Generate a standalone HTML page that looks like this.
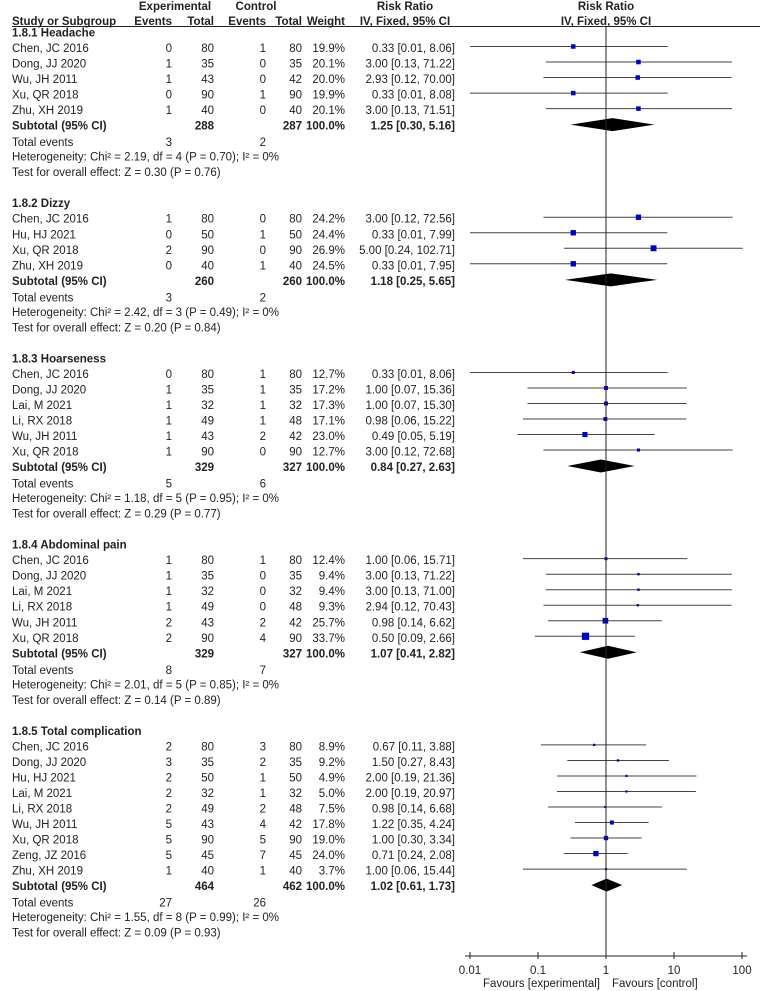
<!DOCTYPE html>
<html><head><meta charset="utf-8"><style>
html,body{margin:0;padding:0;background:#fff;}
svg{display:block;font-family:"Liberation Sans",Arial,sans-serif;font-size:11.5px;fill:#222;}
.b{font-weight:bold;}
</style></head><body>
<svg id="plot" width="760" height="991" viewBox="0 0 760 991" xmlns="http://www.w3.org/2000/svg">
<g>
<text class="b" x="175" y="10" text-anchor="middle">Experimental</text>
<text class="b" x="256" y="10" text-anchor="middle">Control</text>
<text class="b" x="405" y="10" text-anchor="middle">Risk Ratio</text>
<text class="b" x="606" y="10" text-anchor="middle">Risk Ratio</text>
<text class="b" x="12" y="25">Study or Subgroup</text>
<text class="b" x="172" y="25" text-anchor="end">Events</text>
<text class="b" x="214" y="25" text-anchor="end">Total</text>
<text class="b" x="266" y="25" text-anchor="end">Events</text>
<text class="b" x="302" y="25" text-anchor="end">Total</text>
<text class="b" x="345" y="25" text-anchor="end">Weight</text>
<text class="b" x="405" y="25" text-anchor="middle">IV, Fixed, 95% CI</text>
<text class="b" x="606" y="25" text-anchor="middle">IV, Fixed, 95% CI</text>
<line x1="12" y1="26.5" x2="760" y2="26.5" stroke="#222" stroke-width="1"/>
</g>
<g id="rows"></g>
<g id="axis"></g>
</svg>
<script>
const groupTitles = ["1.8.1 Headache","1.8.2 Dizzy","1.8.3 Hoarseness","1.8.4 Abdominal pain","1.8.5 Total complication"];
const studies = [
 ["Chen, JC 2016","Dong, JJ 2020","Wu, JH 2011","Xu, QR 2018","Zhu, XH 2019"],
 ["Chen, JC 2016","Hu, HJ 2021","Xu, QR 2018","Zhu, XH 2019"],
 ["Chen, JC 2016","Dong, JJ 2020","Lai, M 2021","Li, RX 2018","Wu, JH 2011","Xu, QR 2018"],
 ["Chen, JC 2016","Dong, JJ 2020","Lai, M 2021","Li, RX 2018","Wu, JH 2011","Xu, QR 2018"],
 ["Chen, JC 2016","Dong, JJ 2020","Hu, HJ 2021","Lai, M 2021","Li, RX 2018","Wu, JH 2011","Xu, QR 2018","Zeng, JZ 2016","Zhu, XH 2019"]
];
const expEvents = [[0,1,1,0,1],[1,0,2,0],[0,1,1,1,1,1],[1,1,1,1,2,2],[2,3,2,2,2,5,5,5,1]];
const expTotal = [[80,35,43,90,40],[80,50,90,40],[80,35,32,49,43,90],[80,35,32,49,43,90],[80,35,50,32,49,43,90,45,40]];
const ctlEvents = [[1,0,0,1,0],[0,1,0,1],[1,1,1,1,2,0],[1,0,0,0,2,4],[3,2,1,1,2,4,5,7,1]];
const ctlTotal = [[80,35,42,90,40],[80,50,90,40],[80,35,32,48,42,90],[80,35,32,48,42,90],[80,35,50,32,48,42,90,45,40]];
const weights = [[19.9,20.1,20.0,19.9,20.1],[24.2,24.4,26.9,24.5],[12.7,17.2,17.3,17.1,23.0,12.7],[12.4,9.4,9.4,9.3,25.7,33.7],[8.9,9.2,4.9,5.0,7.5,17.8,19.0,24.0,3.7]];
const rr = [[0.33,3.00,2.93,0.33,3.00],[3.00,0.33,5.00,0.33],[0.33,1.00,1.00,0.98,0.49,3.00],[1.00,3.00,3.00,2.94,0.98,0.50],[0.67,1.50,2.00,2.00,0.98,1.22,1.00,0.71,1.00]];
const lo = [[0.01,0.13,0.12,0.01,0.13],[0.12,0.01,0.24,0.01],[0.01,0.07,0.07,0.06,0.05,0.12],[0.06,0.13,0.13,0.12,0.14,0.09],[0.11,0.27,0.19,0.19,0.14,0.35,0.30,0.24,0.06]];
const hi = [[8.06,71.22,70.00,8.08,71.51],[72.56,7.99,102.71,7.95],[8.06,15.36,15.30,15.22,5.19,72.68],[15.71,71.22,71.00,70.43,6.62,2.66],[3.88,8.43,21.36,20.97,6.68,4.24,3.34,2.08,15.44]];
const subTotExp = [288,260,329,329,464];
const subTotCtl = [287,260,327,327,462];
const subRR = [1.25,1.18,0.84,1.07,1.02];
const subLo = [0.30,0.25,0.27,0.41,0.61];
const subHi = [5.16,5.65,2.63,2.82,1.73];
const totEvExp = [3,3,5,8,27];
const totEvCtl = [2,2,6,7,26];
const hetText = ["Heterogeneity: Chi² = 2.19, df = 4 (P = 0.70); I² = 0%","Heterogeneity: Chi² = 2.42, df = 3 (P = 0.49); I² = 0%","Heterogeneity: Chi² = 1.18, df = 5 (P = 0.95); I² = 0%","Heterogeneity: Chi² = 2.01, df = 5 (P = 0.85); I² = 0%","Heterogeneity: Chi² = 1.55, df = 8 (P = 0.99); I² = 0%"];
const testText = ["Test for overall effect: Z = 0.30 (P = 0.76)","Test for overall effect: Z = 0.20 (P = 0.84)","Test for overall effect: Z = 0.29 (P = 0.77)","Test for overall effect: Z = 0.14 (P = 0.89)","Test for overall effect: Z = 0.09 (P = 0.93)"];
const tickVals = [0.01,0.1,1,10,100];
const tickLabels = ["0.01","0.1","1","10","100"];

const NS="http://www.w3.org/2000/svg";
const X1=606, DEC=68, XMIN=466, XMAX=746;
const xs = v => X1 + DEC*Math.log10(v);
const clampX = x => Math.max(XMIN, Math.min(XMAX, x));
const Y0=32.5, PITCH=15.52;
const rowY = i => Y0 + i*PITCH;
const rows=document.getElementById('rows');
function mk(tag,attrs,parent,txt){const e=document.createElementNS(NS,tag);for(const k in attrs)e.setAttribute(k,attrs[k]);if(txt!==undefined)e.textContent=txt;(parent||rows).appendChild(e);return e;}
function txt(x,y,s,anchor,bold,name,parent){const e=mk('text',{x:x,y:y+4,'text-anchor':anchor||'start'},parent,s);if(bold)e.setAttribute('class','b');


return e;}
const fmt=v=>v.toFixed(2);
let r=0;
for(let g=0;g<groupTitles.length;g++){
  const grp=mk('g',{});
  
  
  txt(12,rowY(r),groupTitles[g],'start',true,'subgroup-title',grp); r++;
  for(let i=0;i<studies[g].length;i++){
    const y=rowY(r);
    const row=mk('g',{},grp);
    
    
    txt(12,y,studies[g][i],'start',false,'study-name',row);
    txt(172,y,String(expEvents[g][i]),'end',false,'exp-events',row);
    txt(214,y,String(expTotal[g][i]),'end',false,'exp-total',row);
    txt(266,y,String(ctlEvents[g][i]),'end',false,'ctl-events',row);
    txt(302,y,String(ctlTotal[g][i]),'end',false,'ctl-total',row);
    txt(345,y,weights[g][i].toFixed(1)+'%','end',false,'weight',row);
    txt(455,y,fmt(rr[g][i])+' ['+fmt(lo[g][i])+', '+fmt(hi[g][i])+']','end',false,'risk-ratio-ci',row);
    const ly=y-1.5;
    const cl=mk('line',{x1:clampX(xs(lo[g][i])),x2:clampX(xs(hi[g][i])),y1:ly,y2:ly,stroke:'#444','stroke-width':1},row);
    
    
    const s=Math.max(2.2,0.2*weights[g][i]+0.5);
    const sq=mk('rect',{x:xs(rr[g][i])-s/2,y:ly-s/2,width:s,height:s,fill:'#0000cc'},row);
    
    
    r++;
  }
  const y=rowY(r);
  txt(12,y,'Subtotal (95% CI)','start',true,'subtotal-label',grp);
  txt(214,y,String(subTotExp[g]),'end',true,'subtotal-exp-total',grp);
  txt(302,y,String(subTotCtl[g]),'end',true,'subtotal-ctl-total',grp);
  txt(345,y,'100.0%','end',true,'subtotal-weight',grp);
  txt(455,y,fmt(subRR[g])+' ['+fmt(subLo[g])+', '+fmt(subHi[g])+']','end',true,'subtotal-ci',grp);
  const dy=y-1, a=xs(subLo[g]), c=xs(subRR[g]), b=xs(subHi[g]);
  const d=mk('polygon',{points:`${a},${dy} ${c},${dy-6.5} ${b},${dy} ${c},${dy+6.5}`,fill:'#000'},grp);
  
  
  r++;
  txt(12,rowY(r)+1,'Total events','start',false,'total-events-label',grp);
  txt(172,rowY(r)+1,String(totEvExp[g]),'end',false,'total-events-exp',grp);
  txt(266,rowY(r)+1,String(totEvCtl[g]),'end',false,'total-events-ctl',grp); r++;
  txt(12,rowY(r),hetText[g],'start',false,'heterogeneity',grp); r++;
  txt(12,rowY(r),testText[g],'start',false,'overall-effect-test',grp); r++;
  r++;
}
const ax=document.getElementById('axis');
const AY=956;
const vl=mk('line',{x1:X1,x2:X1,y1:27,y2:AY,stroke:'#222','stroke-width':1},ax);


const al=mk('line',{x1:xs(tickVals[0])-5,x2:xs(tickVals[tickVals.length-1])+5,y1:AY,y2:AY,stroke:'#222','stroke-width':1},ax);


for(let i=0;i<tickVals.length;i++){
  const x=xs(tickVals[i]);
  const t=mk('line',{x1:x,x2:x,y1:AY-4,y2:AY+3,stroke:'#222','stroke-width':1},ax);
  
  
  txt(x,970,tickLabels[i],'middle',false,'tick-label',ax);
}
txt(600,983,'Favours [experimental]','end',false,'favours-experimental',ax);
txt(612,983,'Favours [control]','start',false,'favours-control',ax);
</script>
</body></html>
